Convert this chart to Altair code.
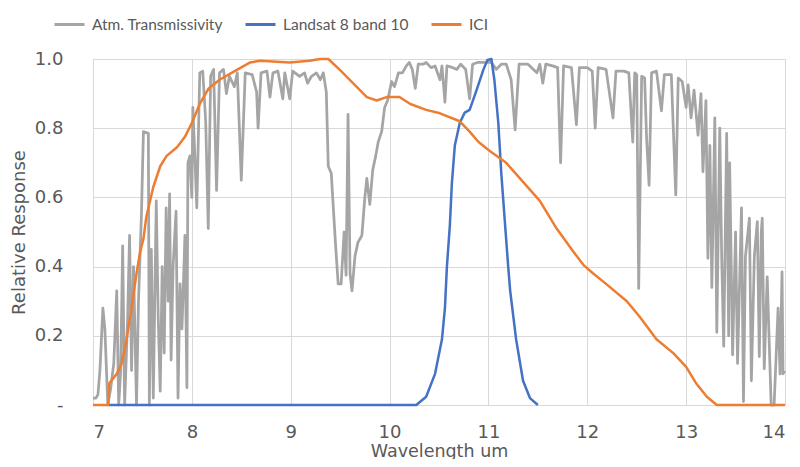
import altair as alt
import pandas as pd

# ---- Data ----
series_names = ["Atm. Transmissivity", "Landsat 8 band 10", "ICI"]
series_colors = ["#A5A5A5", "#4472C4", "#ED7D31"]

atm_wl = [7.00, 7.03, 7.05, 7.07, 7.10, 7.12, 7.15, 7.18, 7.21, 7.24, 7.26, 7.28, 7.30, 7.32, 7.35,
          7.37, 7.39, 7.41, 7.44, 7.46, 7.49, 7.51, 7.56, 7.57, 7.59, 7.61, 7.64, 7.66, 7.68, 7.70,
          7.72, 7.74, 7.76, 7.775, 7.79, 7.81, 7.84, 7.86, 7.88, 7.90, 7.93, 7.95, 7.96, 7.98, 8.00,
          8.01, 8.03, 8.05, 8.08, 8.11, 8.14, 8.166, 8.19, 8.22, 8.25, 8.28, 8.32, 8.35, 8.38, 8.43,
          8.46, 8.50, 8.54, 8.61, 8.655, 8.67, 8.70, 8.76, 8.79, 8.82, 8.87, 8.92, 8.94, 8.99, 9.02,
          9.09, 9.14, 9.17, 9.21, 9.26, 9.30, 9.33, 9.36, 9.38, 9.41, 9.45, 9.48, 9.51, 9.54, 9.56,
          9.58, 9.60, 9.62, 9.65, 9.68, 9.72, 9.75, 9.77, 9.80, 9.83, 9.86, 9.885, 9.92, 9.95, 9.98,
          10.02, 10.05, 10.09, 10.13, 10.17, 10.20, 10.23, 10.26, 10.29, 10.34, 10.37, 10.42, 10.46,
          10.51, 10.53, 10.56, 10.58, 10.64, 10.68, 10.72, 10.77, 10.81, 10.84, 10.89, 10.95, 11.03,
          11.08, 11.13, 11.18, 11.23, 11.27, 11.31, 11.40, 11.49, 11.52, 11.55, 11.58, 11.65, 11.70,
          11.73, 11.76, 11.84, 11.89, 11.92, 12.00, 12.05, 12.08, 12.11, 12.19, 12.26, 12.29, 12.37,
          12.42, 12.46, 12.48, 12.50, 12.52, 12.55, 12.58, 12.60, 12.625, 12.65, 12.70, 12.75, 12.78,
          12.85, 12.895, 12.92, 12.96, 13.00, 13.02, 13.05, 13.08, 13.12, 13.15, 13.17, 13.20, 13.22,
          13.24, 13.26, 13.29, 13.31, 13.34, 13.36, 13.38, 13.41, 13.43, 13.44, 13.47, 13.50, 13.52,
          13.56, 13.58, 13.60, 13.64, 13.66, 13.69, 13.72, 13.74, 13.76, 13.77, 13.79, 13.82, 13.86,
          13.89, 13.93, 13.95, 13.97, 13.98, 14.00]
atm_val = [0.02, 0.02, 0.03, 0.10, 0.28, 0.22, 0.00, 0.05, 0.12, 0.33, 0.00, 0.10, 0.46, 0.00, 0.25,
           0.49, 0.10, 0.40, 0.00, 0.30, 0.55, 0.79, 0.785, 0.00, 0.45, 0.02, 0.59, 0.25, 0.04, 0.40,
           0.15, 0.57, 0.30, 0.61, 0.13, 0.40, 0.56, 0.02, 0.35, 0.22, 0.49, 0.05, 0.70, 0.72, 0.60,
           0.86, 0.72, 0.57, 0.96, 0.965, 0.82, 0.51, 0.95, 0.97, 0.62, 0.96, 0.97, 0.90, 0.95, 0.92,
           0.96, 0.65, 0.96, 0.955, 0.905, 0.80, 0.96, 0.965, 0.89, 0.96, 0.965, 0.885, 0.96, 0.885, 0.965,
           0.95, 0.96, 0.93, 0.95, 0.96, 0.94, 0.96, 0.905, 0.69, 0.67, 0.48, 0.35, 0.35, 0.50, 0.375,
           0.84, 0.38, 0.33, 0.43, 0.47, 0.49, 0.60, 0.655, 0.58, 0.68, 0.72, 0.76, 0.79, 0.86, 0.88,
           0.935, 0.92, 0.96, 0.96, 0.98, 0.99, 0.97, 0.915, 0.985, 0.985, 0.99, 0.975, 0.98,
           0.94, 0.98, 0.875, 0.98, 0.975, 0.97, 0.985, 0.97, 0.885, 0.985, 0.99, 0.99, 0.99,
           0.97, 0.985, 0.985, 0.94, 0.795, 0.985, 0.985, 0.96, 0.985, 0.93, 0.985, 0.98, 0.975,
           0.70, 0.98, 0.975, 0.81, 0.975, 0.975, 0.965, 0.80, 0.975, 0.97, 0.83, 0.965, 0.965,
           0.96, 0.76, 0.96, 0.955, 0.337, 0.95, 0.945, 0.77, 0.635, 0.96, 0.965, 0.85, 0.955,
           0.955, 0.607, 0.945, 0.935, 0.86, 0.925, 0.83, 0.91, 0.78, 0.90, 0.674, 0.88, 0.424,
           0.75, 0.34, 0.83, 0.21, 0.80, 0.42, 0.17, 0.785, 0.20, 0.70, 0.145, 0.50, 0.12,
           0.57, 0.01, 0.43, 0.54, 0.07, 0.43, 0.53, 0.14, 0.50, 0.54, 0.105, 0.37, 0.00,
           0.00, 0.28, 0.09, 0.385, 0.09, 0.10]

l8_wl = [7.16, 10.27, 10.37, 10.46, 10.53, 10.56, 10.58, 10.61, 10.63, 10.66, 10.71, 10.76, 10.81,
         10.88, 10.95, 10.99, 11.03, 11.06, 11.10, 11.13, 11.17, 11.20, 11.22, 11.28, 11.35, 11.42, 11.50]
l8_val = [0.0, 0.0, 0.024, 0.09, 0.19, 0.28, 0.40, 0.52, 0.64, 0.75, 0.815, 0.845, 0.853,
          0.91, 0.97, 0.997, 1.0, 0.94, 0.815, 0.67, 0.515, 0.40, 0.33, 0.19, 0.07, 0.02, 0.0]

ici_wl = [7.00, 7.155, 7.165, 7.24, 7.29, 7.34, 7.39, 7.44, 7.475, 7.51, 7.54, 7.61, 7.68, 7.745,
          7.85, 7.93, 8.00, 8.08, 8.17, 8.28, 8.42, 8.59, 8.69, 8.99, 9.19, 9.30, 9.38, 9.50, 9.63,
          9.77, 9.87, 9.97, 10.10, 10.21, 10.37, 10.51, 10.71, 10.81, 10.90, 11.01, 11.18, 11.35,
          11.52, 11.69, 11.86, 11.96, 12.06, 12.19, 12.40, 12.53, 12.70, 12.87, 13.00, 13.10, 13.21,
          13.31, 14.00]
ici_val = [0.0, 0.0, 0.063, 0.09, 0.12, 0.19, 0.28, 0.38, 0.44, 0.48, 0.545, 0.63, 0.69, 0.72,
           0.745, 0.775, 0.815, 0.87, 0.915, 0.94, 0.963, 0.99, 0.995, 0.99, 0.995, 1.0, 1.0, 0.968, 0.93,
           0.89, 0.88, 0.89, 0.89, 0.87, 0.853, 0.843, 0.82, 0.79, 0.76, 0.735, 0.70, 0.645,
           0.59, 0.51, 0.443, 0.405, 0.38, 0.35, 0.30, 0.255, 0.19, 0.15, 0.11, 0.063, 0.024,
           0.0, 0.0]

x_ticks = [7, 8, 9, 10, 11, 12, 13, 14]
y_ticks = [0, 0.2, 0.4, 0.6, 0.8, 1.0]

# ---- Build table ----
frames = []
for name, wl, val in [(series_names[0], atm_wl, atm_val),
                      (series_names[1], l8_wl, l8_val),
                      (series_names[2], ici_wl, ici_val)]:
    frames.append(pd.DataFrame({"wl": wl, "val": val, "series": name, "idx": range(len(wl))}))
df = pd.concat(frames, ignore_index=True)

AX_FONT = "DejaVu Sans"
LEG_FONT = "Lato"
TXT = "#595959"
GRID = "#d9d9d9"

color = alt.Color(
    "series:N",
    scale=alt.Scale(domain=series_names, range=series_colors),
    legend=alt.Legend(
        orient="none", legendX=-40, legendY=-51, direction="horizontal", title=None,
        symbolType="stroke", symbolStrokeWidth=3, symbolSize=900,
        labelFont=LEG_FONT, labelFontSize=15.5, labelColor=TXT, labelOffset=6,
        columnPadding=16,
    ),
)

x_enc = alt.X(
    "wl:Q",
    scale=alt.Scale(domain=[7, 14], nice=False, zero=False),
    axis=alt.Axis(values=x_ticks, title="Wavelength um", format="d",
                  grid=True, gridColor=GRID, domainColor=GRID, ticks=False,
                  labelPadding=18, labelFont=AX_FONT, labelFontSize=18, labelColor=TXT,
                  titleFont=AX_FONT, titleFontSize=17.5, titleColor=TXT, titleFontWeight="normal",
                  titleY=51, titleBaseline="alphabetic"),
)
y_enc = alt.Y(
    "val:Q",
    scale=alt.Scale(domain=[0, 1], nice=False),
    axis=alt.Axis(values=y_ticks, title="Relative Response",
                  labelExpr="datum.value == 0 ? '-' : format(datum.value, '.1f')",
                  grid=True, gridColor=GRID, domain=False, ticks=False,
                  labelPadding=30, labelFont=AX_FONT, labelFontSize=18, labelColor=TXT,
                  titleFont=AX_FONT, titleFontSize=18, titleColor=TXT, titleFontWeight="normal",
                  titleX=-69, titleBaseline="alphabetic"),
)

layers = []
for name, sw in zip(series_names, [2.75, 2.5, 2.5]):
    layers.append(
        alt.Chart(df)
        .transform_filter(alt.datum.series == name)
        .mark_line(strokeWidth=sw, strokeJoin="round")
        .encode(x=x_enc, y=y_enc, color=color, order="idx:Q")
    )

chart = (
    alt.layer(*layers)
    .properties(
        width=692, height=346,
        autosize=alt.AutoSizeParams(type="none"),
        padding={"left": 85, "top": 51, "right": 7, "bottom": 54},
    )
    .configure_view(stroke=None)
    .configure(background="white")
)

chart.save("out.html", embed_options={"renderer": "svg", "actions": False})
